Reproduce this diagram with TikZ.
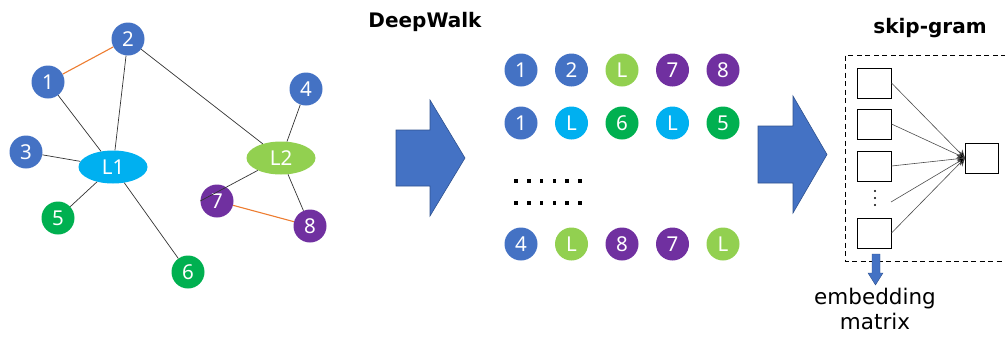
\documentclass[tikz,border=0pt]{standalone}
\usepackage{fontspec}
\setmainfont{Noto Sans}
\newfontfamily\headfont{DejaVu Sans}
\usetikzlibrary{arrows.meta,shapes.geometric}

\definecolor{nblue}{HTML}{4472C4}
\definecolor{ncyan}{HTML}{00B0F0}
\definecolor{ngreen}{HTML}{00B050}
\definecolor{nlime}{HTML}{92D050}
\definecolor{npurple}{HTML}{7030A0}
\definecolor{norange}{HTML}{ED7D31}
\definecolor{arrowedge}{HTML}{2F528F}

\tikzset{
  vertex/.style={circle, minimum size=33pt, inner sep=0pt, text=white,
    font=\fontsize{20.5}{20.5}\selectfont},
  hub/.style={ellipse, minimum width=69pt, minimum height=33pt, inner sep=0pt,
    text=white, font=\fontsize{20.5}{20.5}\selectfont},
  edge/.style={draw=black!80, line width=0.7pt},
  link/.style={draw=norange, line width=1.1pt},
  cell/.style={rectangle, draw=black, line width=1pt, minimum width=34pt,
    minimum height=30pt, inner sep=0pt},
  wire/.style={draw=black!70, line width=0.6pt,
    -{Stealth[length=8pt,width=8pt,fill=black]}},
  bigarrow/.style={fill=nblue, draw=arrowedge, line width=0.6pt},
  title/.style={font=\headfont\bfseries\fontsize{20}{20}\selectfont},
  caption/.style={font=\headfont\fontsize{21.5}{25}\selectfont, align=center},
  dot/.style={fill=black, minimum size=3.6pt, inner sep=0pt, rectangle}
}

\begin{document}
\begin{tikzpicture}[x=1pt,y=-1pt]
\useasboundingbox (0,0) rectangle (1005,338);

% ---- graph ----
\node[vertex, fill=nblue] (n2) at (128,39) {2};
\node[vertex, fill=nblue] (n1) at (48,82) {1};
\node[vertex, fill=nblue] (n4) at (306,89) {4};
\node[vertex, fill=nblue] (n3) at (26,152) {3};
\node[hub, fill=ncyan] (L1) at (113,167) {L1};
\node[hub, fill=nlime] (L2) at (281,158) {L2};
\node[vertex, fill=ngreen] (n5) at (58,218) {5};
\node[vertex, fill=ngreen] (n6) at (188,272) {6};
\node[vertex, fill=npurple] (n7) at (217,201) {7};
\node[vertex, fill=npurple] (n8) at (310,226) {8};

\draw[link] (n1) -- (n2);
\draw[link] (n7) -- (n8);
\draw[edge] (n1) -- (L1);
\draw[edge] (n2) -- (L1);
\draw[edge] (n2) -- (L2);
\draw[edge] (n3) -- (L1);
\draw[edge] (n5) -- (L1);
\draw[edge] (n6) -- (L1);
\draw[edge] (n4) -- (L2);
\draw[edge] (L2) -- (n7.west);
\draw[edge] (L2) -- (n8);

% ---- first transition ----
\node[title] (dw) at (425,22) {DeepWalk};
\fill[bigarrow] (396,130) -- (430,130) -- (430,100) -- (465,158)
  -- (430,216) -- (430,186) -- (396,186) -- cycle;

% ---- random walk sequences ----
\foreach \lab/\col [count=\i] in {1/nblue,2/nblue,L/nlime,7/npurple,8/npurple}
  \node[vertex, fill=\col] (a\i) at ({521+50.5*(\i-1)},70) {\lab};
\foreach \lab/\col [count=\i] in {1/nblue,L/ncyan,6/ngreen,L/ncyan,5/ngreen}
  \node[vertex, fill=\col] (b\i) at ({521+50.5*(\i-1)},123) {\lab};
\foreach \lab/\col [count=\i] in {4/nblue,L/nlime,8/npurple,7/npurple,L/nlime}
  \node[vertex, fill=\col] (c\i) at ({521+50.5*(\i-1)},244) {\lab};
\foreach \k in {0,...,5} {
  \node[dot] (da\k) at ({516+12.8*\k},181) {};
  \node[dot] (db\k) at ({516+12.8*\k},203) {};
}

% ---- second transition ----
\fill[bigarrow] (758,126) -- (793,126) -- (793,96) -- (827,154.5)
  -- (793,213) -- (793,183) -- (758,183) -- cycle;

% ---- skip-gram model ----
\node[title] (sg) at (930,28) {skip-gram};
\draw[line width=0.9pt, dash pattern=on 5pt off 3.5pt]
  (1006,55) -- (845,55) -- (845,261) -- (1006,261);

\node[cell] (s1) at (874,83) {};
\node[cell] (s2) at (874,124) {};
\node[cell] (s3) at (874,166) {};
\node[cell] (s5) at (874,233) {};
\node[cell, minimum width=33pt] (out) at (982,158) {};
\coordinate (s4) at (891,202);
\foreach \yy in {191,198,205}
  \fill (875,\yy) circle (1.2pt);

\foreach \s in {s1,s2,s3,s5}
  \draw[wire] (\s.east) -- (out.west);
\draw[wire] (s4) -- (out.west);

\fill[bigarrow, line width=0.4pt] (872,254) -- (880,254) -- (880,273) -- (883,273)
  -- (875.5,285) -- (868,273) -- (872,273) -- cycle;
\node[caption] (emb) at (875,309) {embedding\\matrix};

\end{tikzpicture}
\end{document}
